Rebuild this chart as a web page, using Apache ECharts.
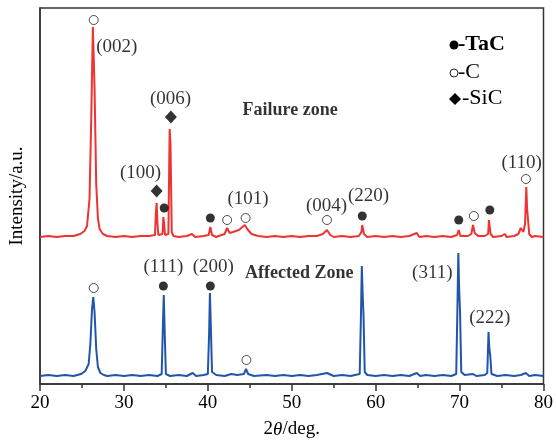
<!DOCTYPE html>
<html>
<head>
<meta charset="utf-8">
<script src="https://cdn.jsdelivr.net/npm/echarts@6/dist/echarts.min.js"></script>
<style>
  html, body { margin: 0; padding: 0; background: #fff; }
  #chart { width: 556px; height: 445px; }
</style>
</head>
<body>
<div id="chart"></div>
<script>
// 2theta (deg) vs intensity (a.u., offset traces)
var failureZone = [
  [20, 147], [21, 148], [22, 147], [23, 148], [24, 148], [24.8, 150], [25.3, 153], [25.6, 158],
  [25.9, 185], [26.1, 262], [26.3, 357], [26.5, 296], [26.7, 200], [26.9, 166], [27.1, 155],
  [27.5, 150], [28, 148], [29, 147], [30, 148], [31, 147], [32, 148], [33, 148], [33.7, 149],
  [33.8, 170], [33.9, 181], [34.0, 160], [34.1, 149], [34.3, 148], [34.6, 150], [34.7, 167],
  [34.8, 160], [34.9, 149], [35.1, 148], [35.3, 150], [35.45, 255], [35.55, 240], [35.7, 152],
  [35.9, 148], [36.5, 147], [37.5, 148], [38.1, 150], [38.5, 147], [39.5, 148], [40.1, 149],
  [40.3, 157], [40.5, 149], [41, 147], [41.3, 148], [41.5, 146], [42, 150], [42.3, 156],
  [42.6, 151], [43, 152], [43.7, 154], [44.4, 159], [44.7, 155], [45.2, 150], [46, 148],
  [47, 147], [48, 148], [49, 147], [50, 148], [51, 147], [52, 148], [53, 148], [53.7, 150],
  [54.2, 154], [54.6, 149], [55, 147], [56, 148], [57, 147], [58, 148], [58.3, 152], [58.4, 159],
  [58.6, 150], [59, 147], [60, 148], [61, 147], [62, 148], [63, 147], [64, 148], [64.9, 151],
  [65.2, 147], [66, 148], [67, 147], [68, 148], [69, 147], [69.7, 149], [69.9, 154], [70.1, 148],
  [71, 148], [71.4, 150], [71.6, 159], [71.8, 151], [72.2, 148], [73, 148], [73.4, 150],
  [73.5, 164], [73.7, 150], [74, 147], [75, 148], [75.4, 150], [75.6, 147], [76.5, 148],
  [77, 150], [77.3, 156], [77.6, 152], [77.8, 160], [77.95, 197], [78.05, 175], [78.15, 174],
  [78.3, 150], [78.6, 147], [79, 148], [80, 147]
];

var affectedZone = [
  [20, 8], [21, 9], [22, 8], [23, 9], [24, 8], [24.9, 10], [25.4, 13], [25.8, 20], [26.0, 40],
  [26.2, 75], [26.35, 87], [26.5, 72], [26.7, 35], [26.9, 17], [27.2, 11], [27.6, 9], [28, 8],
  [29, 9], [30, 8], [31, 9], [32, 8], [33, 9], [34, 8], [34.5, 10], [34.65, 60], [34.75, 89],
  [34.85, 55], [35.0, 10], [35.5, 8], [36.5, 9], [37.5, 8], [38.2, 11], [38.6, 8], [39.5, 9],
  [40.0, 10], [40.15, 50], [40.25, 91], [40.35, 60], [40.5, 12], [41, 9], [42, 8], [42.8, 10],
  [43.5, 9], [44.3, 10], [44.55, 15], [44.8, 10], [45.5, 8], [47, 9], [48, 8], [49, 9],
  [50, 8], [51, 9], [52, 8], [53, 9], [54.2, 11], [55, 8], [56, 9], [57, 8], [58.1, 10],
  [58.25, 70], [58.35, 118], [58.45, 90], [58.55, 69], [58.7, 12], [59, 9], [60, 8],
  [61, 9], [62, 8], [63, 9], [64, 8], [64.9, 11], [65.3, 8], [66, 9], [67, 8], [68, 9],
  [69, 8], [69.6, 10], [69.75, 80], [69.85, 131], [69.95, 95], [70.05, 74], [70.2, 12],
  [70.6, 9], [71.6, 10], [72, 8], [73, 9], [73.3, 11], [73.45, 52], [73.55, 35], [73.65, 29],
  [73.8, 10], [74.5, 8], [75.5, 9], [76.5, 8], [77.3, 9], [77.9, 11], [78.3, 8], [79, 9], [80, 8]
];

var tacPts = [[34.8, 176], [40.3, 166], [58.4, 168], [69.9, 164], [73.6, 174],
  [34.7, 98], [40.3, 98]];
var carbonPts = [[26.4, 364], [42.3, 164], [44.5, 166], [54.2, 164], [71.7, 168], [77.9, 205],
  [26.4, 96], [44.6, 24]];
var sicPts = [[35.6, 267], [33.9, 193]];

var hklLabels = [
  ['(002)', 29.15, 337], ['(006)', 35.55, 285], ['(100)', 31.98, 211], ['(101)', 44.8, 185],
  ['(004)', 54.15, 178], ['(220)', 59.15, 188], ['(110)', 77.4, 221],
  ['(111)', 34.7, 117], ['(200)', 40.65, 117], ['(311)', 66.75, 111], ['(222)', 73.6, 66]
];
var zoneLabels = [['Failure zone', 49.8, 274], ['Affected Zone', 50.9, 111]];

var serif = 'Liberation Serif';
var chart = echarts.init(document.getElementById('chart'));

function textPoints (list) {
  return list.map(function (d) { return { name: d[0], value: [d[1], d[2]] } })
}

chart.setOption({
  animation: false,
  grid: { left: 40, right: 10, top: 8, bottom: 61, show: true, borderColor: '#333', borderWidth: 1.5 },
  xAxis: {
    type: 'value', min: 20, max: 80, interval: 10,
    name: '2{i|θ}/deg.', nameLocation: 'middle', nameGap: 36,
    nameTextStyle: { fontFamily: serif, fontSize: 19, color: '#000',
      rich: { i: { fontFamily: serif, fontStyle: 'italic', fontSize: 19, color: '#000' } } },
    axisLine: { lineStyle: { color: '#333', width: 1.5 } },
    axisTick: { length: 7, lineStyle: { color: '#333', width: 1.5 } },
    minorTick: { show: true, splitNumber: 2, length: 4, lineStyle: { color: '#333', width: 1.5 } },
    splitLine: { show: false },
    axisLabel: { fontFamily: serif, fontSize: 19, color: '#000', margin: 10 }
  },
  yAxis: {
    type: 'value', min: 0, max: 376,
    name: 'Intensity/a.u.', nameLocation: 'middle', nameGap: 13,
    nameTextStyle: { fontFamily: serif, fontSize: 19, color: '#000' },
    axisLine: { show: true, lineStyle: { color: '#333', width: 1.5 } },
    axisTick: { show: false }, axisLabel: { show: false }, splitLine: { show: false }
  },
  graphic: [
    { type: 'circle', shape: { cx: 454, cy: 45, r: 4.5 }, style: { fill: '#000' } },
    { type: 'text', left: 458, top: 33, style: { text: '-TaC', fontFamily: serif, fontSize: 22, fontWeight: 'bold', fill: '#000' } },
    { type: 'circle', shape: { cx: 454, cy: 73, r: 4 }, style: { fill: '#fff', stroke: '#222', lineWidth: 1 } },
    { type: 'text', left: 458, top: 61, style: { text: '-C', fontFamily: serif, fontSize: 22, fill: '#000' } },
    { type: 'polygon', shape: { points: [[455, 93], [461, 99], [455, 105], [449, 99]] }, style: { fill: '#000' } },
    { type: 'text', left: 462, top: 87, style: { text: '-SiC', fontFamily: serif, fontSize: 22, fill: '#000' } }
  ],
  series: [
    { type: 'line', data: failureZone, showSymbol: false, lineStyle: { color: '#ee3333', width: 2 }, z: 2 },
    { type: 'line', data: affectedZone, showSymbol: false, lineStyle: { color: '#2255aa', width: 2 }, z: 2 },
    { type: 'scatter', data: tacPts, symbol: 'circle', symbolSize: 9, itemStyle: { color: '#000' }, z: 5 },
    { type: 'scatter', data: carbonPts, symbol: 'circle', symbolSize: 9,
      itemStyle: { color: '#fff', borderColor: '#222', borderWidth: 1 }, z: 5 },
    { type: 'scatter', data: sicPts, symbol: 'diamond', symbolSize: [12, 13], itemStyle: { color: '#000' }, z: 5 },
    { type: 'scatter', data: textPoints(hklLabels), symbolSize: 0, z: 6,
      label: { show: true, position: 'inside', formatter: '{b}', fontFamily: serif, fontSize: 19, color: '#000' } },
    { type: 'scatter', data: textPoints(zoneLabels), symbolSize: 0, z: 6,
      label: { show: true, position: 'inside', formatter: '{b}', fontFamily: serif, fontSize: 18, fontWeight: 'bold', color: '#000' } }
  ]
});
</script>
</body>
</html>
